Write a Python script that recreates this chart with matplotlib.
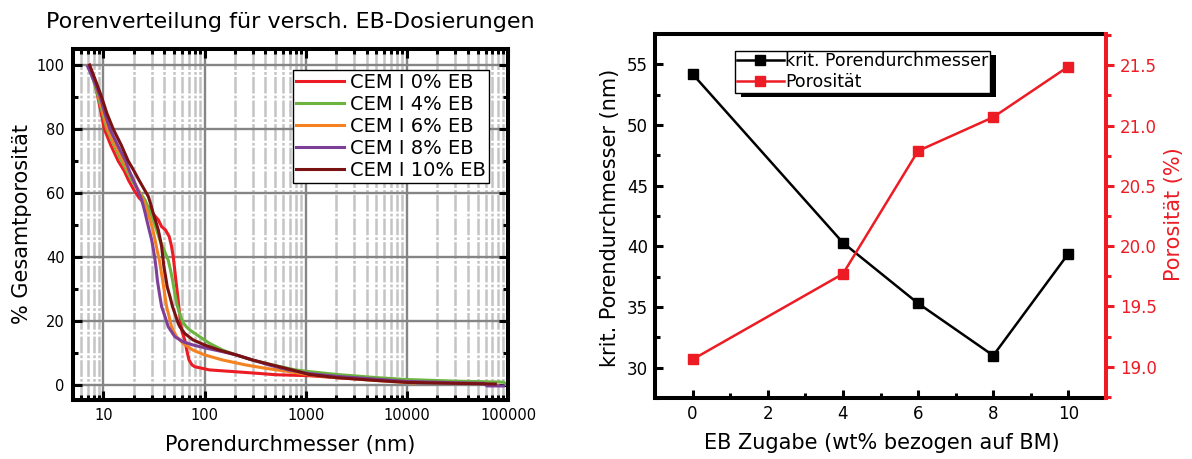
import matplotlib
matplotlib.use('Agg')
import matplotlib.pyplot as plt
from matplotlib.ticker import FixedLocator, LogLocator, NullFormatter, FuncFormatter, MultipleLocator
from matplotlib.patches import Rectangle
from matplotlib.transforms import IdentityTransform

plt.rcParams['font.family'] = ['DejaVu Sans']
plt.rcParams['lines.scale_dashes'] = False

# ---------------- data: pore size distribution ----------------
labels_psd = ['CEM I 0% EB', 'CEM I 4% EB', 'CEM I 6% EB', 'CEM I 8% EB', 'CEM I 10% EB']
colors_psd = ['#ED1C24', '#6CB33F', '#F58220', '#7E3F98', '#7A1214']

diam_0 = [7.3, 8.2, 8.8, 9.5, 10.2, 11.8, 14.0, 16.0, 17.7, 20.0, 22.5, 25.0, 27.8, 31.0, 34.9, 37.6, 41.0,
          44.7, 47.0, 49.0, 52.0, 54.8, 57.8, 60.0, 63.7, 67.0, 70.2, 75.0, 80.0, 112, 189, 346, 505, 1070,
          2000, 4000, 10000, 30000, 66000]
por_0 = [100, 95, 90, 85, 80, 75, 70, 67, 64, 61, 58.5, 57, 55.8, 53.5, 51.6, 49.5, 48.5, 46.4, 43.5, 40.1,
         32.8, 26.6, 19.5, 16.5, 14.1, 10.5, 7.8, 6.3, 5.7, 4.7, 4.2, 3.6, 3.2, 2.9, 2.3, 1.8, 1.3, 0.9, 0.6]

diam_4 = [7.2, 8.0, 8.9, 9.8, 10.8, 12.7, 15.1, 17.0, 19.1, 22.0, 25.8, 28.5, 31.1, 33.5, 36.2, 40.0, 43.7,
          46.0, 48.2, 50.5, 53.5, 57.0, 61.3, 66.0, 71.3, 89.3, 112, 151, 205, 298, 468, 794, 1072, 2000,
          5000, 10000, 30000, 90000, 100000]
por_4 = [99.5, 95, 90, 85, 80, 75, 70, 67, 64, 61, 57.8, 54.5, 51.6, 48.5, 45.3, 42, 39, 36, 32.8, 29, 25,
         22, 19.5, 18.2, 17.2, 15.1, 13, 10.9, 9.4, 7.8, 6.25, 4.7, 4.2, 3.3, 2.3, 1.7, 1.2, 0.9, -0.3]

diam_6 = [7.2, 8.2, 9.1, 10.0, 11.0, 13.0, 15.7, 17.5, 19.8, 22.0, 24.8, 27.0, 28.9, 30.8, 32.4, 34.0, 35.7,
          37.0, 38.5, 40.5, 42.1, 44.5, 47.1, 52.8, 61.3, 76.8, 100, 151, 256, 403, 680, 1072, 2000, 5000,
          12000]
por_6 = [99, 95, 90, 85, 80, 75, 70, 67, 64, 61, 57.8, 54.5, 51.6, 48.5, 45.3, 42, 39, 36, 32.8, 28, 24.5,
         21.5, 18.2, 15.1, 13, 10.9, 9.4, 7.8, 6.25, 5.2, 4.2, 3.2, 2.3, 1.4, 0.6]

diam_8 = [7.0, 8.1, 9.3, 10.3, 11.6, 13.8, 16.6, 18.0, 19.8, 21.8, 23.9, 25.5, 26.8, 28.3, 30.0, 31.3, 32.4,
          33.3, 34.1, 35.8, 37.6, 40.5, 43.7, 50.8, 61.3, 76.8, 104, 151, 205, 298, 433, 680, 1072, 2000,
          5000, 10000, 30000, 58000, 62000, 90000]
por_8 = [99.5, 95, 90, 85, 80, 75, 70, 67, 64, 61, 57.8, 54.5, 51.6, 48.5, 45.3, 42, 39, 36, 32.8, 28.5,
         24.5, 21.5, 18.2, 15.1, 13.5, 12.5, 11.5, 10.4, 9.4, 7.8, 6.25, 4.7, 3.6, 2.7, 1.8, 1.1, 0.7, 0.5,
         -0.3, -0.3]

diam_10 = [7.3, 8.4, 9.6, 10.8, 12.5, 15.0, 17.6, 20.0, 22.5, 25.5, 27.8, 29.5, 31.1, 33.0, 34.9, 36.3, 37.6,
           38.6, 39.6, 41.2, 42.7, 45.5, 48.2, 50.8, 54.8, 56.9, 63.7, 76.8, 100, 140, 205, 298, 468, 735,
           1072, 2000, 5000, 10000, 30000, 75000]
por_10 = [100, 95, 90, 85, 80, 75, 70, 67, 64, 61, 58.9, 56.3, 53.6, 51, 48.4, 45.8, 43.2, 40.1, 37, 33.8,
          30.7, 27.6, 24.5, 22.4, 19.3, 18.2, 16.1, 14.1, 12.5, 10.9, 9.4, 7.8, 6.25, 4.7, 3.3, 2.3, 1.4, 0.8,
          0.5, 0.3]

x_ticks_psd = [10, 100, 1000, 10000, 100000]
y_ticks_psd = [0, 20, 40, 60, 80, 100]

# ---------------- data: critical pore diameter / porosity ----------------
eb_dose = [0, 4, 6, 8, 10]
krit_d = [54.2, 40.3, 35.3, 31.0, 39.4]
porosity = [19.06, 19.77, 20.79, 21.07, 21.49]

RED = '#ED1C24'
W, H = 1192, 459
fig = plt.figure(figsize=(W / 100, H / 100), dpi=100)

# ================= left chart =================
ax1 = fig.add_axes([73 / W, 1 - 400 / H, 435 / W, 351.5 / H])
ax1.set_xscale('log')
series = [(diam_0, por_0), (diam_4, por_4), (diam_6, por_6), (diam_8, por_8), (diam_10, por_10)]
for (d, p), lab, c in zip(series, labels_psd, colors_psd):
    ax1.plot(d, p, color=c, lw=2.2, label=lab, solid_joinstyle='miter')
ax1.set_xlim(5, 1e5)
ax1.set_ylim(-4.7, 105.2)
ax1.xaxis.set_major_locator(FixedLocator(x_ticks_psd))
ax1.xaxis.set_major_formatter(FuncFormatter(lambda v, p: '%d' % round(v)))
ax1.xaxis.set_minor_locator(LogLocator(base=10, subs=range(2, 10), numticks=20))
ax1.xaxis.set_minor_formatter(NullFormatter())
ax1.yaxis.set_major_locator(FixedLocator(y_ticks_psd))
ax1.yaxis.set_minor_locator(MultipleLocator(10))
ax1.grid(which='major', axis='both', color='#858585', lw=1.7)
ax1.grid(which='minor', axis='x', color='#c4c4c4', lw=1.8, linestyle=(0, (12, 1.5, 2, 1.5)))
ax1.tick_params(which='both', direction='in', top=True, right=True, width=2.2, labelsize=10.5, pad=6)
ax1.tick_params(which='major', length=6.5)
ax1.tick_params(which='minor', length=3.6)
for s in ax1.spines.values():
    s.set_linewidth(2.9)
ax1.set_xlabel('Porendurchmesser (nm)', fontsize=15, va='center')
ax1.xaxis.set_label_coords(0.5, (400 - 445) / 351.5)
ax1.set_ylabel('% Gesamtporosität', fontsize=15, va='center')
ax1.yaxis.set_label_coords((22 - 73) / 435, 0.5)
fig.text(290.5 / W, 1 - 22 / H, 'Porenverteilung für versch. EB-Dosierungen', fontsize=16,
         ha='center', va='center')
leg1 = ax1.legend(loc='upper left', bbox_to_anchor=((292.7 - 73) / 435, (400 - 70) / 351.5),
                  borderaxespad=0, fontsize=14, fancybox=False, edgecolor='black', framealpha=1,
                  handlelength=2.5, handletextpad=0.3, labelspacing=0.15, borderpad=0.15)
leg1.get_frame().set_linewidth(1.0)

# ================= right chart =================
ax2 = fig.add_axes([655 / W, 1 - 398 / H, 451 / W, 364 / H])
l1, = ax2.plot(eb_dose, krit_d, color='black', marker='s', lw=1.8, ms=6.8, label='krit. Porendurchmesser')
ax2.set_xlim(-1, 11)
ax2.set_ylim(27.5, 57.5)
ax2.xaxis.set_major_locator(MultipleLocator(2))
ax2.xaxis.set_minor_locator(MultipleLocator(1))
ax2.yaxis.set_major_locator(MultipleLocator(5))
ax2.yaxis.set_minor_locator(MultipleLocator(2.5))
ax2.tick_params(which='both', direction='in', top=False, right=False, width=2.2, labelsize=12, pad=5)
ax2.tick_params(which='major', length=6)
ax2.tick_params(which='minor', length=3.5)
ax2.set_xlabel('EB Zugabe (wt% bezogen auf BM)', fontsize=15, va='center')
ax2.xaxis.set_label_coords((881.5 - 655) / 451, (398 - 443) / 364)
ax2.set_ylabel('krit. Porendurchmesser (nm)', fontsize=15, va='center')
ax2.yaxis.set_label_coords((610 - 655) / 451, 0.496)

ax3 = ax2.twinx()
l2, = ax3.plot(eb_dose, porosity, color=RED, marker='s', lw=1.8, ms=6.8, label='Porosität')
ax3.set_ylim(18.74, 21.76)
ax3.yaxis.set_major_locator(MultipleLocator(0.5))
ax3.yaxis.set_minor_locator(MultipleLocator(0.25))
ax3.yaxis.set_major_formatter(FuncFormatter(lambda v, p: '%.1f' % v))
ax3.tick_params(which='both', direction='out', colors=RED, width=2.2, labelsize=12, pad=4)
ax3.tick_params(which='major', length=6)
ax3.tick_params(which='minor', length=3.5)
ax3.set_ylabel('Porosität (%)', fontsize=15, color=RED, va='center', rotation=90)
ax3.yaxis.set_label_coords((1174 - 655) / 451, 0.505)
for k in ['left', 'top', 'bottom']:
    ax3.spines[k].set_visible(False)
ax3.spines['right'].set_color(RED)
ax3.spines['right'].set_linewidth(2.9)
ax2.spines['right'].set_visible(False)
for k in ['left', 'top', 'bottom']:
    ax2.spines[k].set_linewidth(2.9)

leg2 = ax3.legend([l1, l2], ['krit. Porendurchmesser', 'Porosität'], loc='upper left',
                  bbox_to_anchor=((734.9 - 655) / 451, (398 - 50.7) / 364), borderaxespad=0,
                  fontsize=12.5, fancybox=False, edgecolor='black', framealpha=1,
                  handlelength=2.7, handletextpad=0.1, labelspacing=0.17, borderpad=0.1)
leg2.get_frame().set_linewidth(1.0)

fig.canvas.draw()
bb = leg2.get_window_extent()
shadow = Rectangle((bb.x0 + 6, bb.y0 - 4), bb.width, bb.height, transform=IdentityTransform(),
                   facecolor='black', edgecolor='none', zorder=4.9)
ax3.add_artist(shadow)

fig.savefig('out.png', dpi=100)
